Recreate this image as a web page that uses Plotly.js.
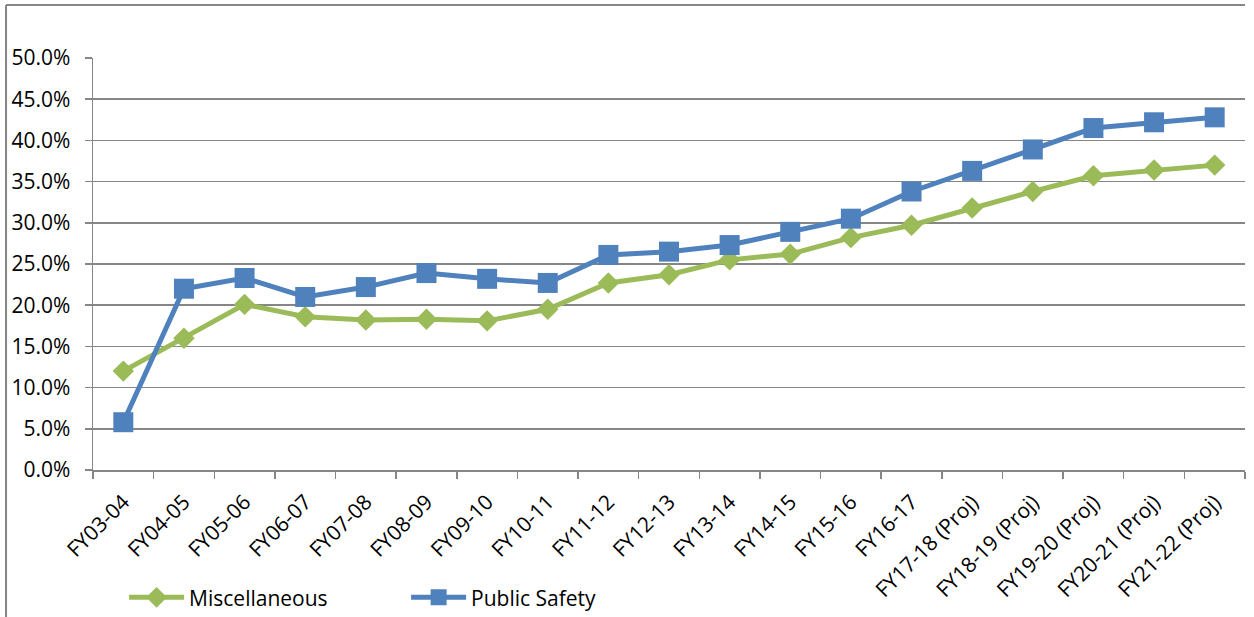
<!DOCTYPE html>
<html>
<head>
<meta charset="utf-8">
<script src="https://cdn.plot.ly/plotly-3.0.1.min.js"></script>
<style>
html,body{margin:0;padding:0;background:#fff;}
#chart{width:1254px;height:617px;}
</style>
</head>
<body>
<div id="chart"></div>
<script>
const categories = ["FY03-04","FY04-05","FY05-06","FY06-07","FY07-08","FY08-09","FY09-10","FY10-11","FY11-12","FY12-13","FY13-14","FY14-15","FY15-16","FY16-17","FY17-18 (Proj)","FY18-19 (Proj)","FY19-20 (Proj)","FY20-21 (Proj)","FY21-22 (Proj)"];
const miscellaneous = [12.0,16.0,20.1,18.6,18.2,18.3,18.1,19.5,22.7,23.7,25.5,26.2,28.2,29.7,31.8,33.8,35.7,36.4,37.0];
const publicSafety = [5.8,22.0,23.3,21.0,22.2,23.9,23.2,22.7,26.1,26.5,27.3,28.9,30.5,33.8,36.3,38.9,41.5,42.2,42.8];
const yTicks = [0,5,10,15,20,25,30,35,40,45,50];

const FONT = "Open Sans, sans-serif";
const traces = [
  {x: categories, y: miscellaneous, name: "Miscellaneous", type: "scatter", mode: "lines+markers",
   line: {color: "#9BBB59", width: 5}, marker: {symbol: "diamond", size: 16.5, color: "#9BBB59"}},
  {x: categories, y: publicSafety, name: "Public Safety", type: "scatter", mode: "lines+markers",
   line: {color: "#4F81BD", width: 5}, marker: {symbol: "square", size: 20, color: "#4F81BD"}}
];

const layout = {
  width: 1254, height: 617,
  margin: {l: 93, r: 9, t: 58, b: 147, autoexpand: false},
  paper_bgcolor: "#fff", plot_bgcolor: "#fff",
  font: {family: FONT, size: 20, color: "#000"},
  showlegend: true,
  legend: {orientation: "h", x: 0.027, xanchor: "left", y: -0.31, yanchor: "middle",
           font: {family: FONT, size: 21, color: "#000"}, itemwidth: 55, traceorder: "normal",
           entrywidth: 212, entrywidthmode: "pixels",
           bgcolor: "rgba(0,0,0,0)"},
  xaxis: {type: "category", tickson: "boundaries", ticks: "outside", ticklen: 7, tickcolor: "#868686",
          tickwidth: 1.5, showline: true, linecolor: "#868686", linewidth: 1.5, showgrid: false,
          tickangle: -45, tickfont: {family: FONT, size: 21, color: "#000"}, fixedrange: true,
          ticklabelstandoff: 10, automargin: false,
          range: [-0.5, 18.5]},
  yaxis: {range: [0, 50], tickvals: yTicks, ticktext: yTicks.map(v => v.toFixed(1) + "%"),
          ticks: "outside", ticklen: 7, tickcolor: "#868686", tickwidth: 1.5,
          showline: true, linecolor: "#868686", linewidth: 1.5,
          showgrid: true, gridcolor: "#868686", gridwidth: 1.5, zeroline: false,
          ticklabelstandoff: 10, automargin: false,
          tickfont: {family: FONT, size: 21, color: "#000"}, fixedrange: true},
  shapes: [
    {type: "line", xref: "paper", yref: "paper", x0: -0.0755, x1: 1.0, y0: 1.1286, y1: 1.1286,
     line: {color: "#868686", width: 2}},
    {type: "line", xref: "paper", yref: "paper", x0: -0.0755, x1: -0.0755, y0: 1.1286, y1: -0.4,
     line: {color: "#868686", width: 2}}
  ]
};

Plotly.newPlot("chart", traces, layout, {displayModeBar: false, staticPlot: true});
</script>
</body>
</html>
